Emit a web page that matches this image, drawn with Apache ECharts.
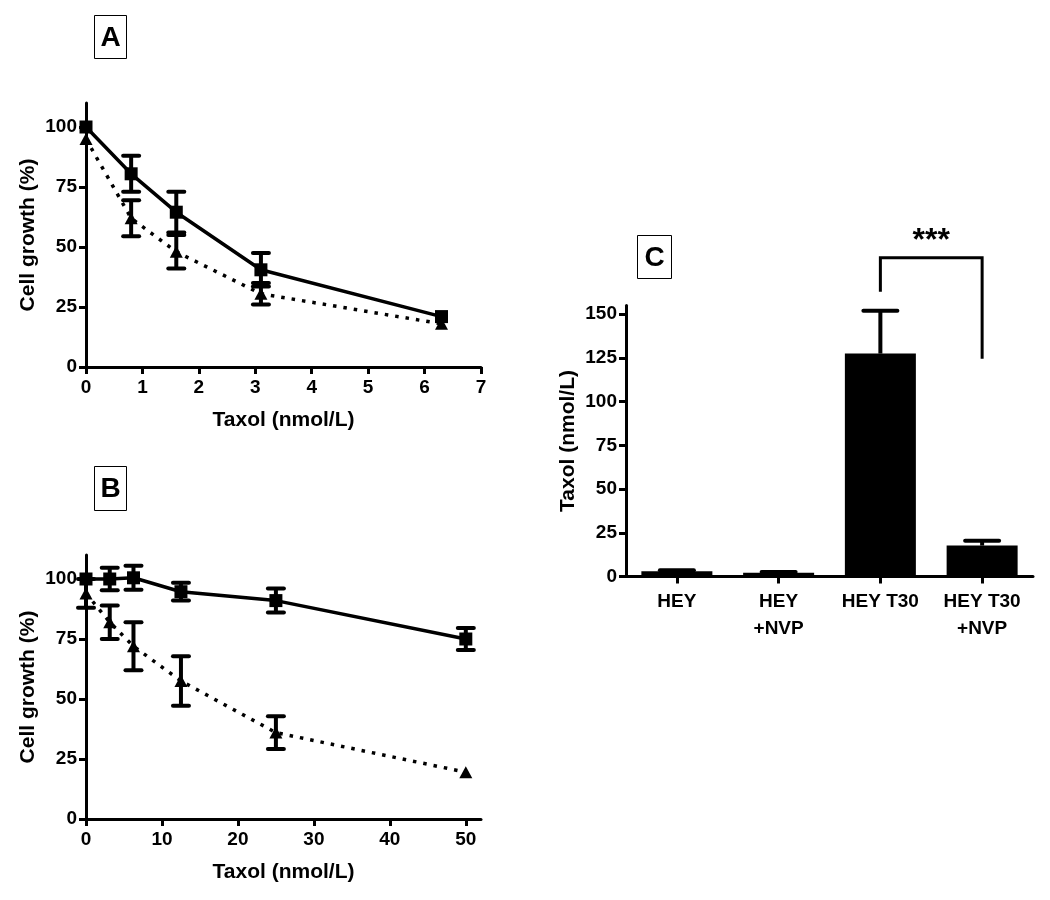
<!DOCTYPE html>
<html><head><meta charset="utf-8">
<script src="https://cdn.jsdelivr.net/npm/echarts@6/dist/echarts.min.js"></script>
<style>html,body{margin:0;padding:0;background:#fff}#c{width:1050px;height:900px}</style>
</head><body><div id="c"></div>
<script>
// ---- Panel A data ----
const aDose = [0, 0.8, 1.6, 3.1, 6.3];
const aSquare = [100, 80.5, 64.5, 40.5, 21];
const aSquareErr = [0, 7.5, 8.5, 7, 0];
const aTriangle = [95, 62, 48, 30.5, 18];
const aTriangleErr = [0, 7.5, 7, 4.5, 0];
const aXTicks = [0, 1, 2, 3, 4, 5, 6, 7];
const growthTicks = [0, 25, 50, 75, 100];

// ---- Panel B data ----
const bDose = [0, 3.125, 6.25, 12.5, 25, 50];
const bSquare = [100, 100, 100.5, 94.7, 91, 75];
const bSquareErr = [0, 4.7, 5, 3.7, 5, 4.6];
const bTriangle = [94, 82, 72, 57.5, 36, 19.5];
const bTriangleErr = [6, 7, 10, 10.3, 6.8, 0];
const bXTicks = [0, 10, 20, 30, 40, 50];

// ---- Panel C data ----
const cCategories = ['HEY', 'HEY\n+NVP', 'HEY T30', 'HEY T30\n+NVP'];
const cValues = [3, 2.2, 127.5, 17.7];
const cErr = [0.6, 0.4, 24.5, 2.7];
const cYTicks = [0, 25, 50, 75, 100, 125, 150];
const sigPair = [2, 3];
const sigLabel = '***';

const FONT = '"Liberation Sans", Arial, sans-serif';
const axisLine = {show: true, onZero: false, lineStyle: {color: '#000', width: 3}};
const tick = (vals) => ({show: true, length: 7, lineStyle: {color: '#000', width: 3}, customValues: vals});
const label = (vals, margin) => ({color: '#000', fontSize: 19, fontWeight: 'bold', fontFamily: FONT, margin: margin, customValues: vals});
const nameStyle = {color: '#000', fontSize: 21, fontWeight: 'bold', fontFamily: FONT};

function errRender(capHalf, upOnly) {
  return function (params, api) {
    const x = api.value(0), y = api.value(1), e = api.value(2);
    if (!e) return null;
    const top = api.coord([x, y + e]);
    const bot = api.coord([x, upOnly ? y : y - e]);
    const st = {stroke: '#000', lineWidth: 4};
    const cs = {stroke: '#000', lineWidth: 4, lineCap: 'round'};
    const ch = [
      {type: 'line', shape: {x1: top[0], y1: top[1], x2: bot[0], y2: bot[1]}, style: st},
      {type: 'line', shape: {x1: top[0] - capHalf, y1: top[1], x2: top[0] + capHalf, y2: top[1]}, style: cs}
    ];
    if (!upOnly) ch.push({type: 'line', shape: {x1: bot[0] - capHalf, y1: bot[1], x2: bot[0] + capHalf, y2: bot[1]}, style: cs});
    return {type: 'group', children: ch};
  };
}

const solid = {color: '#000', width: 3.5, type: 'solid'};
const dotted = {color: '#000', width: 3.5, type: [3.5, 7], cap: 'butt'};

function panelBox(x, y, w, h, txt) {
  return {type: 'group', left: x, top: y, children: [
    {type: 'rect', shape: {x: 0, y: 0, width: w, height: h}, style: {fill: '#fff', stroke: '#000', lineWidth: 1}},
    {type: 'text', x: w / 2, y: h / 2 + 1, style: {text: txt, fill: '#000', font: 'bold 28px ' + FONT, align: 'center', verticalAlign: 'middle'}}
  ]};
}

const option = {
  backgroundColor: '#fff',
  animation: false,
  grid: [
    {left: 86, top: 103, width: 395, height: 264},
    {left: 86, top: 555, width: 395, height: 264},
    {left: 626, top: 305.5, width: 407, height: 271}
  ],
  xAxis: [
    {gridIndex: 0, type: 'value', min: 0, max: 7, interval: 1, axisLine, axisTick: tick(aXTicks), axisLabel: label(aXTicks, 11), splitLine: {show: false},
      name: 'Taxol (nmol/L)', nameLocation: 'middle', nameGap: 43, nameTextStyle: nameStyle},
    {gridIndex: 1, type: 'value', min: 0, max: 52, interval: 10, axisLine, axisTick: tick(bXTicks), axisLabel: label(bXTicks, 11), splitLine: {show: false},
      name: 'Taxol (nmol/L)', nameLocation: 'middle', nameGap: 43, nameTextStyle: nameStyle},
    {gridIndex: 2, type: 'category', data: cCategories, axisLine, axisTick: {show: true, length: 7, alignWithLabel: true, interval: 0, lineStyle: {color: '#000', width: 3}},
      axisLabel: {color: '#000', fontSize: 19, fontWeight: 'bold', fontFamily: FONT, margin: 12, interval: 0, lineHeight: 27}}
  ],
  yAxis: [
    {gridIndex: 0, type: 'value', min: 0, max: 110, axisLine, axisTick: tick(growthTicks), axisLabel: label(growthTicks, 9), splitLine: {show: false},
      name: 'Cell growth (%)', nameLocation: 'middle', nameGap: 47, nameTextStyle: nameStyle},
    {gridIndex: 1, type: 'value', min: 0, max: 110, axisLine, axisTick: tick(growthTicks), axisLabel: label(growthTicks, 9), splitLine: {show: false},
      name: 'Cell growth (%)', nameLocation: 'middle', nameGap: 47, nameTextStyle: nameStyle},
    {gridIndex: 2, type: 'value', min: 0, max: 155, axisLine, axisTick: tick(cYTicks), axisLabel: label(cYTicks, 9), splitLine: {show: false},
      name: 'Taxol (nmol/L)', nameLocation: 'middle', nameGap: 47, nameTextStyle: nameStyle}
  ],
  series: [
    // Panel A
    {type: 'line', xAxisIndex: 0, yAxisIndex: 0, data: aDose.map((d, i) => [d, aTriangle[i]]), lineStyle: dotted,
      symbol: 'triangle', symbolSize: [13, 12], itemStyle: {color: '#000'}, z: 2},
    {type: 'line', xAxisIndex: 0, yAxisIndex: 0, data: aDose.map((d, i) => [d, aSquare[i]]), lineStyle: solid,
      symbol: 'rect', symbolSize: 13, itemStyle: {color: '#000'}, z: 3},
    {type: 'custom', xAxisIndex: 0, yAxisIndex: 0, data: aDose.map((d, i) => [d, aSquare[i], aSquareErr[i]]), renderItem: errRender(8, false), z: 4},
    {type: 'custom', xAxisIndex: 0, yAxisIndex: 0, data: aDose.map((d, i) => [d, aTriangle[i], aTriangleErr[i]]), renderItem: errRender(8, false), z: 4},
    // Panel B
    {type: 'line', xAxisIndex: 1, yAxisIndex: 1, data: bDose.map((d, i) => [d, bTriangle[i]]), lineStyle: dotted,
      symbol: 'triangle', symbolSize: [13, 12], itemStyle: {color: '#000'}, z: 2},
    {type: 'line', xAxisIndex: 1, yAxisIndex: 1, data: bDose.map((d, i) => [d, bSquare[i]]), lineStyle: solid,
      symbol: 'rect', symbolSize: 13, itemStyle: {color: '#000'}, z: 3},
    {type: 'custom', xAxisIndex: 1, yAxisIndex: 1, data: bDose.map((d, i) => [d, bSquare[i], bSquareErr[i]]), renderItem: errRender(8, false), z: 4},
    {type: 'custom', xAxisIndex: 1, yAxisIndex: 1, data: bDose.map((d, i) => [d, bTriangle[i], bTriangleErr[i]]), renderItem: errRender(8, false), z: 4},
    // Panel C
    {type: 'bar', xAxisIndex: 2, yAxisIndex: 2, data: cValues, barWidth: 71, itemStyle: {color: '#000'}, z: 2},
    {type: 'custom', xAxisIndex: 2, yAxisIndex: 2, data: cCategories.map((c, i) => [i, cValues[i], cErr[i]]), renderItem: errRender(17, true), z: 3},
    {type: 'custom', xAxisIndex: 2, yAxisIndex: 2, clip: false, data: [[sigPair[0], sigPair[1]]], z: 5,
      renderItem: function (params, api) {
        const i0 = api.value(0), i1 = api.value(1);
        const l = api.coord([i0, cValues[i0] + cErr[i0]]);
        const r = api.coord([i1, cValues[i1] + cErr[i1]]);
        const yTop = l[1] - 53;
        const st = {stroke: '#000', lineWidth: 3, fill: null};
        return {type: 'group', children: [
          {type: 'polyline', shape: {points: [[l[0], l[1] - 19], [l[0], yTop], [r[0], yTop], [r[0], r[1] - 182]]}, style: st},
          {type: 'text', x: (l[0] + r[0]) / 2, y: yTop - 1, style: {text: sigLabel, fill: '#000', font: 'bold 32px ' + FONT, align: 'center', verticalAlign: 'bottom'}}
        ]};
      }}
  ],
  graphic: [
    panelBox(94, 15, 32, 43, 'A'),
    panelBox(94, 466, 32, 44, 'B'),
    panelBox(637, 235, 34, 43, 'C')
  ]
};
echarts.init(document.getElementById('c')).setOption(option);
</script></body></html>
